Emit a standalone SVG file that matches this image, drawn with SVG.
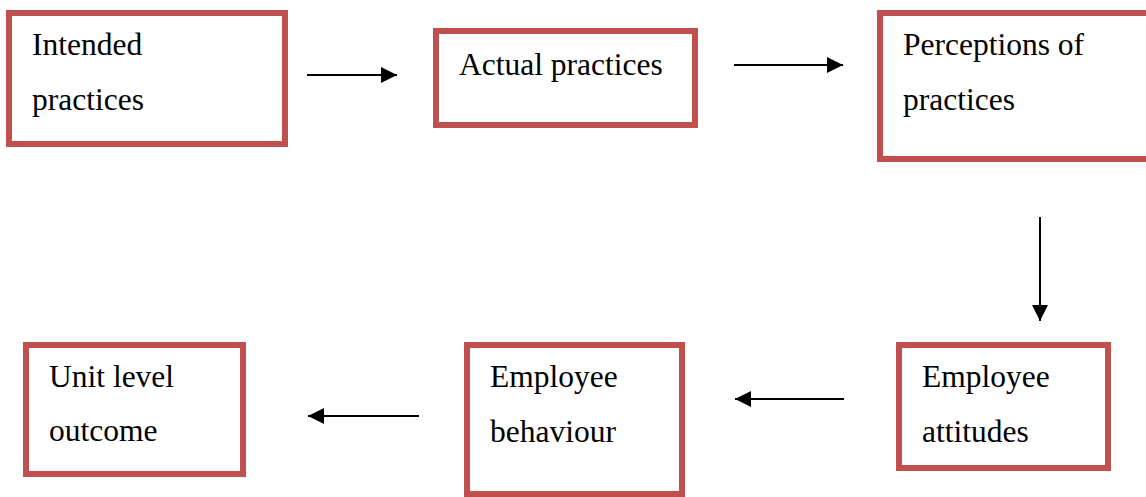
<svg xmlns="http://www.w3.org/2000/svg" width="1146" height="497" viewBox="0 0 1146 497">
<style>
.box{fill:#fff;stroke:#C0504D;stroke-width:6}
.t{font-family:"Liberation Serif","Times New Roman",serif;font-size:31.5px;fill:#000}
.c{stroke:#000;stroke-width:2;fill:none}
</style>
<defs>
<marker id="ah" viewBox="0 0 10 10" refX="10" refY="5" markerWidth="16" markerHeight="16" markerUnits="userSpaceOnUse" orient="auto">
<path d="M0,0 L10,5 L0,10 Z" fill="#000"/>
</marker>
</defs>
<rect width="1146" height="497" fill="#fff"/>
<g id="n1"><rect class="box" x="9" y="13" width="276" height="131"/><text class="t" x="32" y="55">Intended</text><text class="t" x="32" y="110">practices</text></g>
<g id="n2"><rect class="box" x="436" y="31" width="259" height="94"/><text class="t" x="459" y="75">Actual practices</text></g>
<g id="n3"><rect class="box" x="880" y="13" width="280" height="146"/><text class="t" x="903" y="55">Perceptions of</text><text class="t" x="903" y="110">practices</text></g>
<g id="n4"><rect class="box" x="899" y="345" width="209" height="123"/><text class="t" x="922" y="387">Employee</text><text class="t" x="922" y="442">attitudes</text></g>
<g id="n5"><rect class="box" x="467" y="345" width="215" height="149"/><text class="t" x="490" y="387">Employee</text><text class="t" x="490" y="442">behaviour</text></g>
<g id="n6"><rect class="box" x="26" y="345" width="217" height="129"/><text class="t" x="49" y="387">Unit level</text><text class="t" x="49" y="441">outcome</text></g>
<g id="connectors">
<line class="c" x1="307" y1="75" x2="397" y2="75" marker-end="url(#ah)"/>
<line class="c" x1="734" y1="65" x2="843" y2="65" marker-end="url(#ah)"/>
<line class="c" x1="1040" y1="217" x2="1040" y2="321" marker-end="url(#ah)"/>
<line class="c" x1="844" y1="399" x2="735" y2="399" marker-end="url(#ah)"/>
<line class="c" x1="419" y1="416" x2="308" y2="416" marker-end="url(#ah)"/>
</g>
</svg>
